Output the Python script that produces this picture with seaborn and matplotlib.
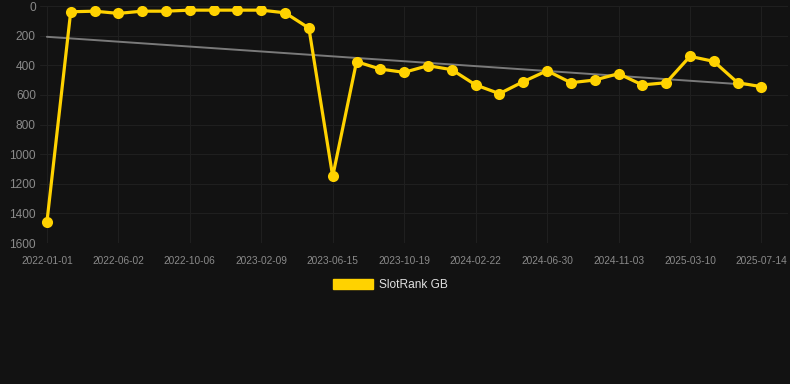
import pandas as pd
import seaborn as sns
import matplotlib.pyplot as plt
from matplotlib.patches import Patch

# snapshot dates (one point every ~6 weeks) and GB rank
dates = [
    "2022-01-01", "2022-02-24", "2022-04-14", "2022-06-02", "2022-07-14",
    "2022-08-25", "2022-10-06", "2022-11-17", "2022-12-29", "2023-02-09",
    "2023-03-23", "2023-05-04", "2023-06-15", "2023-07-27", "2023-09-07",
    "2023-10-19", "2023-11-30", "2024-01-11", "2024-02-22", "2024-04-04",
    "2024-05-17", "2024-06-30", "2024-08-11", "2024-09-22", "2024-11-03",
    "2024-12-15", "2025-01-27", "2025-03-10", "2025-04-21", "2025-06-02",
    "2025-07-14",
]
rank_gb = [
    1460, 38, 34, 49, 34, 34, 27, 27, 27, 27,
    45, 148, 1150, 375, 425, 447, 402, 429, 532, 591,
    510, 436, 517, 499, 456, 532, 517, 339, 373, 517,
    544,
]
trend_ends = [207, 537]
y_ticks = [0, 200, 400, 600, 800, 1000, 1200, 1400, 1600]

BG = "#121212"
GOLD = "#FFD200"
GRID = "#1f1f1f"
TICK = "#8a8a8a"

sns.set_theme(style="dark")
plt.rcParams["font.family"] = ["Liberation Sans", "DejaVu Sans"]

df = pd.DataFrame({"date": dates, "rank": rank_gb})

fig = plt.figure(figsize=(7.9, 3.84), dpi=100, facecolor=BG)
ax = fig.add_axes([0.0506, 0.367, 0.9464, 0.617])
ax.set_facecolor(BG)

# trend line behind the series
ax.plot([0, len(dates) - 1], trend_ends, color="#7a7a7a", lw=1.4, zorder=2)

sns.lineplot(data=df, x="date", y="rank", ax=ax, color=GOLD, lw=2.3,
             marker="o", markersize=8, markeredgewidth=0, zorder=3,
             sort=False, legend=False)

ax.set_ylim(1600, 0)
ax.set_xlim(-0.29, 31.1)
ax.set_yticks(y_ticks)
ax.set_yticklabels([str(v) for v in y_ticks])
ax.set_xticks(range(0, len(dates), 3))
ax.set_xticklabels(dates[::3])
ax.set_xlabel("")
ax.set_ylabel("")

ax.grid(True, color=GRID, lw=0.8)
for s in ax.spines.values():
    s.set_visible(False)
ax.tick_params(axis="y", length=0, pad=3, labelsize=8.6, labelcolor=TICK)
ax.tick_params(axis="x", length=6, width=0.8, color=GRID, pad=3,
               labelsize=7.3, labelcolor=TICK)

handle = Patch(facecolor=GOLD, edgecolor=GOLD)
fig.legend([handle], ["SlotRank GB"], loc="center", bbox_to_anchor=(0.494, 0.258),
           frameon=False, fontsize=8.6, labelcolor="#e0e0e0",
           handlelength=3.4, handleheight=0.95, handletextpad=0.45)

fig.savefig("out.png", dpi=100, facecolor=BG)
